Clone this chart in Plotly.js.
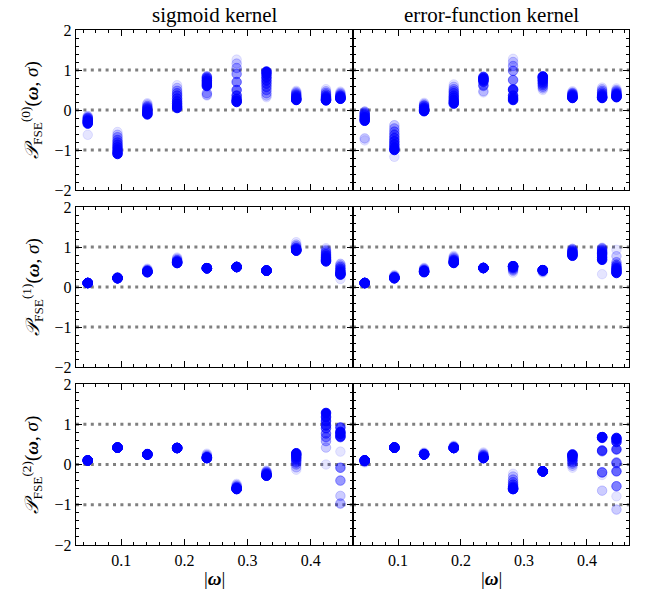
<!DOCTYPE html>
<html>
<head>
<meta charset="utf-8">
<script src="https://cdn.plot.ly/plotly-3.0.1.min.js"></script>
<style>html,body{margin:0;padding:0;background:#fff;}</style>
</head>
<body>
<div id="chart" style="width:646px;height:594px;"></div>
<script>
// |omega| values
const omega = [0.0471, 0.0942, 0.1414, 0.1885, 0.2356, 0.2827, 0.3299, 0.3770, 0.4241, 0.4469];
// sigma levels drawn light -> dark (alpha of each level)
const sigmaAlpha = [0.1, 0.2, 0.3, 0.4, 0.5, 0.6, 0.7, 0.8, 0.9, 1.0];

// each inner array: one |omega| column, values for sigma levels light -> dark
const sigmoidP0 = [
  [-0.62, -0.15, -0.18, -0.2, -0.22, -0.25, -0.27, -0.29, -0.31, -0.34],
  [-0.55, -0.62, -0.68, -0.75, -0.81, -0.87, -0.93, -0.99, -1.05, -1.1],
  [0.17, 0.14, 0.1, 0.07, 0.04, 0.01, -0.03, -0.06, -0.09, -0.11],
  [0.62, 0.55, 0.48, 0.42, 0.36, 0.29, 0.22, 0.16, 0.1, 0.05],
  [0.36, 0.38, 0.42, 0.84, 0.81, 0.78, 0.74, 0.7, 0.65, 0.6],
  [1.26, 1.16, 1.05, 0.9, 0.7, 0.5, 0.36, 0.28, 0.23, 0.2],
  [0.32, 0.36, 0.42, 0.5, 0.58, 0.66, 0.74, 0.82, 0.9, 0.96],
  [0.48, 0.45, 0.42, 0.39, 0.36, 0.33, 0.3, 0.28, 0.26, 0.25],
  [0.52, 0.47, 0.43, 0.39, 0.35, 0.32, 0.29, 0.27, 0.25, 0.24],
  [0.46, 0.43, 0.4, 0.37, 0.35, 0.33, 0.31, 0.3, 0.29, 0.28]
];
const erfP0 = [
  [-0.76, -0.71, -0.04, -0.07, -0.1, -0.13, -0.17, -0.2, -0.24, -0.27],
  [-1.17, -0.38, -0.46, -0.54, -0.62, -0.7, -0.78, -0.86, -0.94, -1.0],
  [0.18, 0.15, 0.12, 0.1, 0.07, 0.05, 0.02, 0.0, -0.02, -0.03],
  [0.64, 0.58, 0.52, 0.47, 0.42, 0.36, 0.31, 0.25, 0.2, 0.16],
  [0.44, 0.47, 0.6, 0.62, 0.7, 0.72, 0.83, 0.8, 0.78, 0.75],
  [1.28, 1.2, 1.1, 0.98, 0.75, 0.52, 0.5, 0.36, 0.3, 0.25],
  [0.5, 0.54, 0.58, 0.62, 0.66, 0.7, 0.74, 0.78, 0.82, 0.84],
  [0.47, 0.44, 0.42, 0.4, 0.38, 0.36, 0.34, 0.32, 0.31, 0.3],
  [0.56, 0.52, 0.48, 0.44, 0.4, 0.37, 0.34, 0.32, 0.31, 0.3],
  [0.54, 0.5, 0.47, 0.44, 0.41, 0.39, 0.37, 0.35, 0.33, 0.32]
];
const sigmoidP1 = [
  [0.1, 0.1, 0.1, 0.1, 0.1, 0.1, 0.1, 0.1, 0.1, 0.1],
  [0.24, 0.24, 0.23, 0.23, 0.23, 0.22, 0.22, 0.22, 0.22, 0.22],
  [0.46, 0.44, 0.42, 0.41, 0.4, 0.39, 0.38, 0.38, 0.37, 0.37],
  [0.74, 0.71, 0.68, 0.66, 0.64, 0.63, 0.62, 0.61, 0.6, 0.6],
  [0.47, 0.47, 0.47, 0.47, 0.47, 0.47, 0.47, 0.47, 0.47, 0.47],
  [0.5, 0.5, 0.5, 0.5, 0.5, 0.5, 0.5, 0.5, 0.5, 0.5],
  [0.41, 0.41, 0.41, 0.41, 0.41, 0.41, 0.41, 0.41, 0.41, 0.41],
  [1.12, 1.06, 1.02, 0.98, 0.96, 0.94, 0.93, 0.92, 0.91, 0.91],
  [0.97, 0.93, 0.9, 0.86, 0.82, 0.78, 0.74, 0.7, 0.67, 0.64],
  [0.2, 0.58, 0.54, 0.5, 0.46, 0.42, 0.38, 0.35, 0.32, 0.31]
];
const erfP1 = [
  [0.08, 0.09, 0.1, 0.1, 0.1, 0.1, 0.1, 0.1, 0.1, 0.1],
  [0.3, 0.28, 0.26, 0.25, 0.24, 0.23, 0.23, 0.22, 0.22, 0.22],
  [0.48, 0.46, 0.44, 0.42, 0.41, 0.4, 0.39, 0.38, 0.38, 0.37],
  [0.78, 0.75, 0.72, 0.69, 0.67, 0.65, 0.63, 0.62, 0.61, 0.6],
  [0.475, 0.475, 0.475, 0.475, 0.475, 0.475, 0.475, 0.475, 0.475, 0.475],
  [0.36, 0.4, 0.43, 0.46, 0.48, 0.5, 0.51, 0.52, 0.52, 0.52],
  [0.36, 0.38, 0.4, 0.41, 0.42, 0.42, 0.42, 0.42, 0.42, 0.42],
  [0.96, 0.95, 0.93, 0.91, 0.89, 0.87, 0.85, 0.83, 0.8, 0.78],
  [0.32, 0.98, 0.96, 0.93, 0.9, 0.87, 0.84, 0.8, 0.74, 0.68],
  [0.93, 0.77, 0.62, 0.56, 0.52, 0.48, 0.45, 0.42, 0.38, 0.35]
];
const sigmoidP2 = [
  [0.1, 0.1, 0.1, 0.1, 0.1, 0.1, 0.1, 0.1, 0.1, 0.1],
  [0.42, 0.42, 0.42, 0.42, 0.42, 0.42, 0.42, 0.42, 0.42, 0.42],
  [0.27, 0.26, 0.26, 0.25, 0.25, 0.25, 0.25, 0.25, 0.25, 0.25],
  [0.41, 0.41, 0.41, 0.41, 0.41, 0.41, 0.41, 0.41, 0.41, 0.41],
  [0.27, 0.24, 0.21, 0.19, 0.18, 0.17, 0.17, 0.16, 0.16, 0.16],
  [-0.48, -0.51, -0.54, -0.56, -0.58, -0.59, -0.6, -0.6, -0.61, -0.61],
  [-0.15, -0.17, -0.19, -0.21, -0.23, -0.25, -0.26, -0.27, -0.27, -0.28],
  [-0.13, -0.07, 0.0, 0.05, 0.1, 0.14, 0.18, 0.22, 0.25, 0.28],
  [0.0, 0.42, 0.58, 0.68, 0.77, 0.9, 0.97, 1.08, 1.18, 1.28],
  [0.32, -0.78, -0.97, -0.4, -0.08, 0.68, 0.92, 0.7, 0.76, 0.81]
];
const erfP2 = [
  [0.05, 0.07, 0.08, 0.09, 0.1, 0.1, 0.1, 0.1, 0.1, 0.1],
  [0.42, 0.42, 0.42, 0.42, 0.42, 0.42, 0.42, 0.42, 0.42, 0.42],
  [0.3, 0.28, 0.27, 0.26, 0.25, 0.25, 0.25, 0.25, 0.25, 0.25],
  [0.47, 0.45, 0.44, 0.43, 0.42, 0.41, 0.41, 0.41, 0.41, 0.41],
  [0.3, 0.27, 0.24, 0.22, 0.2, 0.18, 0.17, 0.16, 0.16, 0.16],
  [-0.23, -0.3, -0.375, -0.44, -0.5, -0.55, -0.58, -0.6, -0.61, -0.61],
  [-0.17, -0.17, -0.17, -0.17, -0.17, -0.17, -0.17, -0.17, -0.17, -0.17],
  [-0.08, -0.03, 0.02, 0.06, 0.1, 0.14, 0.18, 0.21, 0.23, 0.25],
  [-0.26, -0.65, -0.19, -0.2, 0.33, 0.35, 0.66, 0.68, 0.68, 0.68],
  [-0.79, -1.12, 0.03, 0.05, -0.54, -0.17, 0.375, 0.56, 0.62, 0.66]
];

const columnTitles = ['sigmoid kernel', 'error-function kernel'];
const rowLabels = ['(0)', '(1)', '(2)'];
const xTickVals = [0.1, 0.2, 0.3, 0.4];
const yTickVals = [-2, -1, 0, 1, 2];
const refLines = [-1, 0, 1];

const panels = [
  {data: sigmoidP0, row: 0, col: 0},
  {data: erfP0, row: 0, col: 1},
  {data: sigmoidP1, row: 1, col: 0},
  {data: erfP1, row: 1, col: 1},
  {data: sigmoidP2, row: 2, col: 0},
  {data: erfP2, row: 2, col: 1}
];

const W = 646, H = 594;
const xDomPx = [[76, 353], [353, 629]];
const yDomPx = [[30, 190], [207, 367], [384, 545]];
const FONT = 'Liberation Serif, DejaVu Serif, serif';

const traces = [];
const layout = {
  width: W, height: H,
  margin: {l: 0, r: 0, t: 0, b: 0},
  paper_bgcolor: '#fff', plot_bgcolor: '#fff',
  showlegend: false,
  font: {family: FONT, size: 16, color: '#000'},
  shapes: [], annotations: []
};

panels.forEach((p, i) => {
  const idx = i + 1;
  const xa = 'x' + (idx === 1 ? '' : idx), ya = 'y' + (idx === 1 ? '' : idx);
  const xKey = 'xaxis' + (idx === 1 ? '' : idx), yKey = 'yaxis' + (idx === 1 ? '' : idx);
  sigmaAlpha.forEach((a, lv) => {
    traces.push({
      type: 'scatter', mode: 'markers',
      x: omega, y: p.data.map(c => c[lv]),
      xaxis: xa, yaxis: ya,
      marker: {size: 9.5, color: `rgba(0,0,255,${a})`, line: {width: 1, color: `rgba(0,0,255,${a})`}},
      hoverinfo: 'skip'
    });
  });
  const common = {
    showline: true, linecolor: '#000', linewidth: 1.3, mirror: 'allticks',
    ticks: 'inside', ticklen: 6, tickwidth: 1, tickcolor: '#000',
    showgrid: false, zeroline: false, fixedrange: true,
    tickfont: {family: FONT, size: 16, color: '#000'}
  };
  layout[xKey] = Object.assign({}, common, {
    domain: [xDomPx[p.col][0] / W, xDomPx[p.col][1] / W],
    range: [0.0285, 0.4668],
    tickvals: xTickVals, ticktext: xTickVals.map(v => v.toFixed(1)),
    showticklabels: p.row === 2,
    minor: {dtick: 0.02, tick0: 0, ticks: 'inside', ticklen: 3, tickwidth: 1, tickcolor: '#000', showgrid: false},
    anchor: ya
  });
  layout[yKey] = Object.assign({}, common, {
    domain: [1 - yDomPx[p.row][1] / H, 1 - yDomPx[p.row][0] / H],
    range: [-2, 2],
    tickvals: yTickVals,
    showticklabels: p.col === 0,
    minor: {dtick: 0.2, tick0: 0, ticks: 'inside', ticklen: 3, tickwidth: 1, tickcolor: '#000', showgrid: false},
    anchor: xa
  });
  refLines.forEach(v => {
    layout.shapes.push({
      type: 'line', xref: xa + ' domain', yref: ya,
      x0: 0, x1: 1, y0: v, y1: v, layer: 'below',
      line: {color: '#808080', width: 2.8, dash: '3px,4.4px'}
    });
  });
});

columnTitles.forEach((t, c) => {
  layout.annotations.push({
    text: t, xref: 'paper', yref: 'paper',
    x: (xDomPx[c][0] + xDomPx[c][1]) / 2 / W, y: 1 - 15 / H,
    xanchor: 'center', yanchor: 'middle', showarrow: false,
    font: {family: FONT, size: 21, color: '#000'}
  });
  layout.annotations.push({
    text: '|<b><i>ω</i></b>|', xref: 'paper', yref: 'paper',
    x: (xDomPx[c][0] + xDomPx[c][1]) / 2 / W, y: 1 - 578 / H,
    xanchor: 'center', yanchor: 'middle', showarrow: false,
    font: {family: FONT, size: 19, color: '#000'}
  });
});
rowLabels.forEach((r, k) => {
  layout.annotations.push({
    text: '<i>𝒫</i><sub>FSE</sub><sup>' + r + '</sup>(<b><i>ω</i></b>, <i>σ</i>)',
    xref: 'paper', yref: 'paper', textangle: -90,
    x: 32 / W, y: 1 - (yDomPx[k][0] + yDomPx[k][1]) / 2 / H,
    xanchor: 'center', yanchor: 'middle', showarrow: false,
    font: {family: FONT, size: 19, color: '#000'}
  });
});

Plotly.newPlot('chart', traces, layout, {displayModeBar: false, staticPlot: true});
</script>
</body>
</html>
